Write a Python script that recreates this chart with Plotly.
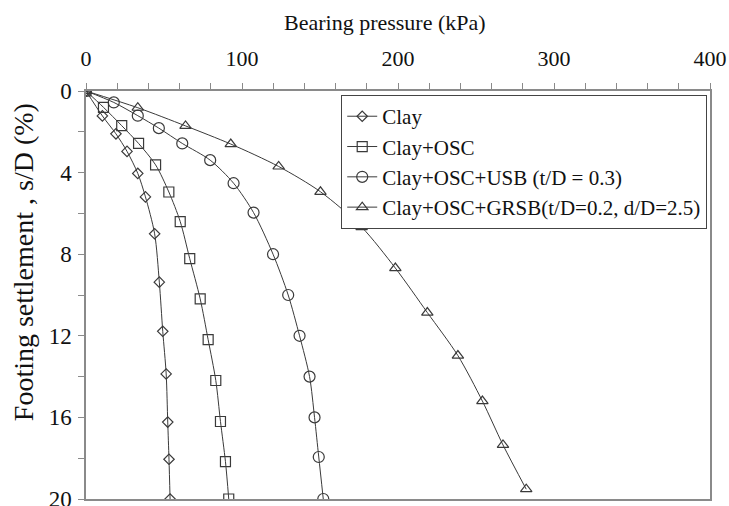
import plotly.graph_objects as go

# Bearing pressure (kPa) and settlement s/D (%)
clay_p = [0, 10.5, 19.2, 26.3, 33.2, 38.1, 44.0, 47.0, 49.2, 51.4, 52.4, 53.2, 53.9]
clay_s = [0, 1.22, 2.10, 2.96, 4.04, 5.19, 7.00, 9.37, 11.78, 13.87, 16.23, 18.05, 20.0]

osc_p = [0, 11.2, 22.9, 33.7, 44.6, 53.1, 60.4, 66.5, 73.2, 78.3, 83.2, 86.2, 89.4, 91.5]
osc_s = [0, 0.80, 1.70, 2.57, 3.62, 4.95, 6.40, 8.22, 10.19, 12.19, 14.19, 16.20, 18.17, 20.0]

usb_p = [0, 17.8, 33.2, 46.7, 61.7, 79.6, 94.6, 107.4, 119.9, 129.6, 136.9, 143.3, 146.5, 149.2, 152.1]
usb_s = [0, 0.56, 1.21, 1.82, 2.57, 3.39, 4.52, 5.96, 8.00, 10.00, 12.00, 14.00, 16.00, 17.94, 20.0]

grsb_p = [0, 33.2, 63.8, 92.8, 123.5, 150.3, 176.7, 198.3, 218.8, 238.4, 254.1, 267.3, 282.2]
grsb_s = [0, 0.82, 1.71, 2.60, 3.70, 4.94, 6.67, 8.68, 10.86, 12.97, 15.20, 17.35, 19.52]

names = ["Clay", "Clay+OSC", "Clay+OSC+USB (t/D = 0.3)", "Clay+OSC+GRSB(t/D=0.2, d/D=2.5)"]
x_ticks = [0, 100, 200, 300, 400]
y_ticks = [0, 4, 8, 12, 16, 20]
x_title = "Bearing pressure (kPa)"
y_title = "Footing settlement , s/D (%)"

LINE = "#3a3a3a"
AX = "#8a8a8a"
FONT = "Liberation Serif, Times New Roman, serif"
TXT = "#111111"

series = [
    (clay_p, clay_s, "diamond-open", 8),
    (osc_p, osc_s, "square-open", 10),
    (usb_p, usb_s, "circle-open", 11),
    (grsb_p, grsb_s, "triangle-up-open", 10),
]

fig = go.Figure()
for (px, sy, sym, sz), nm in zip(series, names):
    fig.add_trace(go.Scatter(
        x=px, y=sy, name=nm, mode="lines+markers",
        line=dict(color=LINE, width=1, shape="spline", smoothing=0.8),
        marker=dict(symbol=sym, size=sz, color=LINE, line=dict(color=LINE, width=1.2)),
    ))

fig.update_layout(
    width=729, height=506,
    margin=dict(l=86, r=19, t=91, b=7),
    paper_bgcolor="white", plot_bgcolor="white",
    font=dict(family=FONT, size=21, color=TXT),
    legend=dict(
        x=0.409, y=0.99, xanchor="left", yanchor="top",
        bordercolor="#444444", borderwidth=1, bgcolor="white",
        font=dict(family=FONT, size=21, color=TXT),
        tracegroupgap=0, itemwidth=30,
    ),
    xaxis=dict(
        side="top", range=[0, 400], tickvals=x_ticks,
        showgrid=False, zeroline=False, automargin=False,
        showline=True, linecolor=AX, linewidth=1.5, mirror=True,
        ticks="outside", ticklen=6, tickcolor=AX, tickwidth=1,
        minor=dict(dtick=20, ticks="outside", ticklen=6, tickcolor=AX, tickwidth=1),
        tickfont=dict(family=FONT, size=22, color=TXT),
        ticklabelstandoff=8,
    ),
    yaxis=dict(
        range=[20, 0], tickvals=y_ticks,
        showgrid=False, zeroline=False, automargin=False,
        showline=True, linecolor=AX, linewidth=1.5, mirror=True,
        ticks="outside", ticklen=6, tickcolor=AX, tickwidth=1,
        minor=dict(dtick=2, ticks="outside", ticklen=6, tickcolor=AX, tickwidth=1),
        tickfont=dict(family=FONT, size=23, color=TXT),
        ticklabelstandoff=2,
        ticklabeloverflow="allow",
    ),
    annotations=[
        dict(text=x_title, xref="paper", yref="paper", x=0.479, y=1.169,
             xanchor="center", yanchor="middle", showarrow=False,
             font=dict(family=FONT, size=22, color=TXT)),
        dict(text=y_title, xref="paper", yref="paper", x=-0.099, y=0.581,
             xanchor="center", yanchor="middle", showarrow=False, textangle=-90,
             font=dict(family=FONT, size=28, color=TXT)),
    ],
)

fig.write_html("out.html")
